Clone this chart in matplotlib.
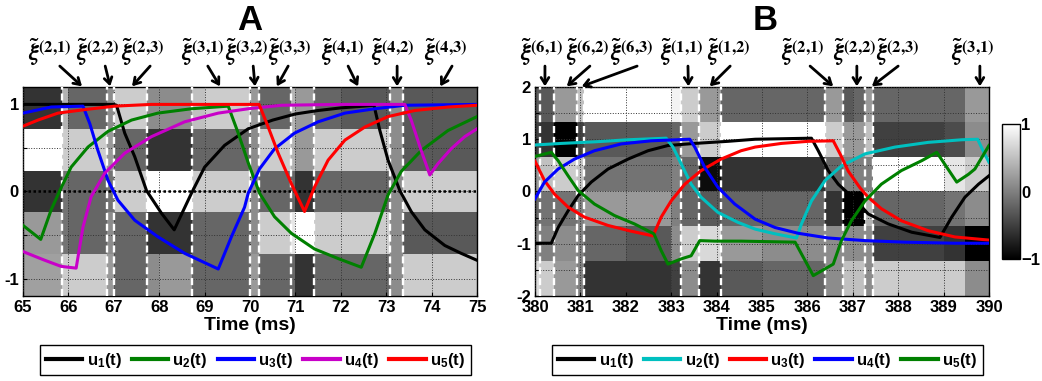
import numpy as np
import matplotlib
matplotlib.use('Agg')
import matplotlib.pyplot as plt
from matplotlib.lines import Line2D

plt.rcParams['font.family'] = ['Liberation Sans', 'DejaVu Sans']
plt.rcParams['font.weight'] = 'bold'
plt.rcParams['mathtext.fontset'] = 'custom'
plt.rcParams['mathtext.rm'] = 'Liberation Sans:bold'
plt.rcParams['mathtext.bf'] = 'Liberation Sans:bold'
plt.rcParams['mathtext.it'] = 'Liberation Sans:bold'

# ---------------- panel A data ----------------
a_edges = [65.0, 65.85, 66.0, 66.85, 67.0, 67.73, 68.0, 68.72, 69.0, 70.0,
           70.2, 70.9, 71.0, 71.42, 72.0, 73.08, 73.38, 74.0, 75.0]
# one entry per time bin, rows listed top to bottom
a_cells = [
    [-0.6, 1.0, -0.6, 0.2, 0.25],
    [0.4, 0.6, -0.1, -0.1, 0.6],
    [-0.2, 0.6, -0.2, -0.2, 0.6],
    [0.1, 0.2, -0.1, 0.1, 0.2],
    [0.6, -0.2, 0.6, -0.2, -0.2],
    [0.1, -0.6, 1.0, -0.6, 0.1],
    [0.1, -0.6, 1.0, -0.6, 0.2],
    [0.5, -0.2, 0.6, -0.2, -0.2],
    [0.6, -0.2, 0.6, -0.2, -0.2],
    [0.2, 0.1, 0.1, 0.1, 0.2],
    [-0.2, 0.6, -0.2, 0.6, -0.2],
    [0.4, 0.4, -0.2, 0.8, -0.2],
    [0.2, 0.2, -0.6, 1.0, -0.6],
    [-0.2, 0.6, -0.2, 0.6, -0.2],
    [-0.3, 0.6, -0.2, 0.6, -0.2],
    [0.1, 0.1, 0.1, 0.1, 0.1],
    [-0.3, -0.3, 0.6, -0.3, 0.6],
    [-0.3, -0.3, 0.6, -0.3, 0.6],
]
a_spikes = [65.85, 66.85, 67.0, 67.73, 68.72, 70.0, 70.2, 70.9, 71.42, 73.08, 73.38]

a_u1_t = [65.0, 66.0, 67.0, 67.06, 67.24, 67.46, 67.72, 68.05, 68.33, 68.71, 69.0, 69.44, 69.96,
          70.5, 71.0, 71.5, 72.0, 72.5, 72.73, 72.86, 73.04, 73.30, 73.55, 73.85, 74.29, 74.65, 75.0]
a_u1_y = [1.0, 1.0, 1.0, 0.99, 0.67, 0.40, 0.01, -0.25, -0.44, -0.02, 0.28, 0.53, 0.72,
          0.82, 0.89, 0.93, 0.96, 0.98, 0.99, 0.70, 0.36, 0.01, -0.23, -0.44, -0.62, -0.71, -0.79]
a_u2_t = [65.0, 65.39, 65.62, 65.81, 66.06, 66.43, 66.87, 67.39, 67.97, 68.71, 69.52, 69.74, 69.96,
          70.21, 70.54, 70.91, 71.42, 71.94, 72.45, 72.75, 73.04, 73.33, 73.77, 74.36, 75.0]
a_u2_y = [-0.39, -0.55, -0.21, 0.01, 0.28, 0.51, 0.69, 0.82, 0.90, 0.95, 0.98, 0.67, 0.33,
          -0.02, -0.29, -0.48, -0.66, -0.77, -0.87, -0.48, -0.04, 0.23, 0.47, 0.70, 0.86]
a_u3_t = [65.0, 65.62, 66.32, 66.47, 66.65, 66.87, 67.09, 67.46, 67.97, 68.56, 69.30, 69.59, 69.88,
          69.96, 70.21, 70.54, 70.98, 71.50, 72.09, 72.75, 73.41, 75.0]
a_u3_y = [0.90, 0.97, 0.98, 0.78, 0.47, 0.13, -0.10, -0.33, -0.52, -0.71, -0.89, -0.52, -0.18,
          -0.02, 0.26, 0.49, 0.67, 0.80, 0.90, 0.95, 0.99, 1.0]
a_u4_t = [65.0, 65.48, 65.84, 66.17, 66.32, 66.5, 66.80, 67.24, 67.83, 68.56, 69.30, 69.96, 70.69,
          72.0, 73.41, 73.55, 73.77, 73.96, 74.14, 74.43, 74.73, 75.0]
a_u4_y = [-0.69, -0.79, -0.86, -0.88, -0.41, -0.06, 0.21, 0.44, 0.63, 0.80, 0.90, 0.95, 0.99,
          1.0, 1.0, 0.82, 0.47, 0.19, 0.32, 0.49, 0.63, 0.72]
a_u5_t = [65.0, 65.33, 65.77, 66.36, 67.02, 67.83, 69.0, 70.2, 70.40, 70.62, 70.91, 71.20, 71.42,
          71.72, 72.09, 72.53, 73.04, 73.63, 74.36, 75.0]
a_u5_y = [0.75, 0.82, 0.90, 0.94, 0.98, 1.0, 1.0, 1.0, 0.74, 0.44, 0.09, -0.23, 0.05,
          0.36, 0.59, 0.74, 0.86, 0.93, 0.97, 0.99]

a_event_names = ['(2,1)', '(2,2)', '(2,3)', '(3,1)', '(3,2)', '(3,3)', '(4,1)', '(4,2)', '(4,3)']
a_event_tip = [66.30, 66.92, 67.40, 69.34, 70.11, 70.59, 72.38, 73.24, 74.19]
a_event_tail = [65.81, 66.81, 67.80, 69.07, 70.07, 70.84, 72.16, 73.24, 74.45]
a_event_label = [65.59, 66.65, 67.64, 68.96, 69.93, 70.87, 72.05, 73.15, 74.30]

# ---------------- panel B data ----------------
b_edges = [380.0, 380.1, 380.42, 380.93, 381.07, 382.0, 383.0, 383.22, 383.62, 384.1, 385.0,
           386.0, 386.38, 386.79, 387.0, 387.27, 387.45, 388.0, 389.0, 389.47, 390.0]
b_cells = [
    [-0.3, -0.5, 0.2, -0.2, 0.1, 0.7],
    [-0.3, -0.6, 0.5, -0.1, 0.0, 0.6],
    [0.2, -1.0, 0.6, -0.1, 0.1, 0.2],
    [0.5, -0.5, 0.5, 0.0, 0.0, 0.0],
    [1.0, -0.3, -0.1, 0.2, -0.2, -0.6],
    [1.0, -0.3, -0.1, 0.2, -0.3, -0.6],
    [0.9, -0.2, 0.0, 0.0, 0.1, -0.5],
    [0.6, 0.2, -0.2, -0.2, 0.6, 0.1],
    [0.2, 0.6, -0.9, -0.3, 0.7, -0.6],
    [-0.2, 1.0, -0.6, -0.2, 0.2, -0.3],
    [-0.2, 1.0, -0.6, -0.2, 0.1, -0.2],
    [-0.2, 1.0, -0.6, -0.2, 0.1, -0.2],
    [0.2, 0.6, -0.2, -0.6, 0.1, 0.1],
    [-0.3, 0.2, 0.0, -1.0, 0.1, 0.5],
    [-0.2, 0.2, 0.0, -1.0, 0.1, 0.5],
    [0.2, 0.5, 0.0, 0.4, 0.1, 0.1],
    [-0.2, -0.5, 1.0, -0.2, -0.5, 0.6],
    [-0.2, -0.5, 1.0, -0.2, -0.5, 0.6],
    [-0.2, -0.4, 0.8, -0.1, -0.6, 0.6],
    [0.2, 0.1, 0.6, 0.1, -1.0, 0.1],
]
b_spikes = [380.1, 380.42, 380.93, 381.07, 383.22, 383.62, 384.1, 386.38, 386.79, 387.27, 387.45]

b_u1_t = [380.0, 380.36, 380.51, 380.73, 380.95, 381.24, 381.61, 382.05, 382.49, 382.93, 383.52,
          384.25, 384.85, 386.09, 386.24, 386.46, 386.68, 386.83, 387.1, 387.34, 387.78, 388.30,
          388.92, 389.18, 389.47, 389.77, 390.0]
b_u1_y = [-0.99, -0.99, -0.69, -0.37, -0.08, 0.18, 0.43, 0.62, 0.78, 0.88, 0.92,
          0.96, 1.0, 1.02, 0.78, 0.40, 0.14, 0.02, -0.2, -0.43, -0.62, -0.78,
          -0.88, -0.49, -0.11, 0.14, 0.3]
b_u2_t = [380.0, 380.58, 381.31, 382.05, 382.89, 383.04, 383.22, 383.44, 383.66, 384.03, 384.47,
          384.85, 385.29, 385.76, 385.87, 386.09, 386.39, 386.75, 387.27, 387.93, 388.66, 389.40,
          389.75, 389.87, 390.0]
b_u2_y = [0.89, 0.92, 0.95, 0.99, 1.02, 0.85, 0.53, 0.14, -0.11, -0.40, -0.59,
          -0.72, -0.81, -0.89, -0.62, -0.18, 0.21, 0.49, 0.72, 0.85, 0.94, 0.99,
          1.0, 0.78, 0.56]
b_u3_t = [380.0, 380.21, 380.43, 380.73, 381.09, 381.61, 382.12, 382.60, 382.78, 383.0, 383.30,
          383.66, 384.10, 384.54, 384.85, 385.43, 386.02, 386.57, 386.72, 386.90, 387.16, 387.34,
          387.63, 388.07, 388.66, 389.25, 390.0]
b_u3_y = [0.58, 0.21, -0.05, -0.30, -0.49, -0.65, -0.76, -0.85, -0.49, -0.18, 0.14,
          0.40, 0.62, 0.78, 0.85, 0.92, 0.96, 0.97, 0.72, 0.39, 0.07, -0.11,
          -0.33, -0.56, -0.75, -0.87, -0.93]
b_u4_t = [380.0, 380.21, 380.51, 380.87, 381.31, 381.90, 382.56, 383.41, 383.52, 383.74, 384.03,
          384.40, 384.85, 385.29, 385.80, 386.46, 387.27, 388.15, 389.25, 390.0]
b_u4_y = [-0.14, 0.18, 0.43, 0.62, 0.78, 0.91, 0.97, 1.0, 0.85, 0.46, 0.08,
          -0.24, -0.53, -0.69, -0.80, -0.89, -0.94, -0.97, -0.99, -0.99]
b_u5_t = [380.0, 380.36, 380.51, 380.73, 380.95, 381.31, 381.75, 382.19, 382.62, 382.78, 382.93,
          383.22, 383.44, 383.63, 383.96, 384.54, 385.73, 386.13, 386.57, 386.75, 386.97, 387.27,
          387.63, 388.07, 388.52, 388.85, 389.29, 389.55, 389.69, 390.0]
b_u5_y = [0.67, 0.75, 0.59, 0.30, 0.02, -0.24, -0.46, -0.62, -0.81, -1.13, -1.39,
          -1.29, -1.23, -0.94, -0.95, -0.95, -0.97, -1.61, -1.39, -0.94, -0.56, -0.18,
          0.14, 0.40, 0.59, 0.75, 0.18, 0.33, 0.43, 0.88]

b_event_names = ['(6,1)', '(6,2)', '(6,3)', '(1,1)', '(1,2)', '(2,1)', '(2,2)', '(2,3)', '(3,1)']
b_event_tip = [380.22, 380.70, 381.03, 383.38, 383.85, 386.57, 387.09, 387.42, 389.80]
b_event_tail = [380.22, 381.21, 382.25, 383.37, 384.30, 386.06, 387.09, 388.00, 389.80]
b_event_label = [380.15, 381.15, 382.14, 383.24, 384.27, 385.90, 387.03, 387.98, 389.65]

legend_labels = [r'u$_1$(t)', r'u$_2$(t)', r'u$_3$(t)', r'u$_4$(t)', r'u$_5$(t)']
a_colors = ['black', '#008000', '#0000ff', '#c800c8', '#ff0000']
b_colors = ['black', '#00c0c0', '#ff0000', '#0000ff', '#008000']


def draw_panel(ax, edges, cells, ylim, nrows, spikes, curves, colors):
    y_edges = np.linspace(ylim[1], ylim[0], nrows + 1)
    mesh = ax.pcolormesh(edges, y_edges, np.array(cells).T, cmap='gray',
                         vmin=-1, vmax=1, zorder=1)
    for t in spikes:
        ax.axvline(t, color='white', lw=1.7, linestyle=(0, (3, 1.6)), zorder=2.6)
    for (t, y), c in zip(curves, colors):
        ax.plot(t, y, color=c, lw=2.2, zorder=3)
    ax.set_xlim(edges[0], edges[-1])
    ax.set_ylim(*ylim)
    ax.set_xticks(np.arange(edges[0], edges[-1] + 1, 1))
    ax.grid(True, color='0.2', linestyle=':', linewidth=0.7)
    ax.set_axisbelow(False)
    ax.tick_params(direction='in', length=3, labelsize=12, pad=3)
    ax.set_xlabel('Time (ms)', fontsize=14, fontweight='bold', labelpad=1)
    for s in ax.spines.values():
        s.set_linewidth(1.0)
    return mesh


def mark_events(ax, names, tips, tails, labels):
    tr = ax.get_xaxis_transform()
    for name, tip, tail, lab in zip(names, tips, tails, labels):
        ax.annotate('', xy=(tip, 1.003), xycoords=tr, xytext=(tail, 1.1), textcoords=tr,
                    arrowprops=dict(arrowstyle='->,head_length=0.45,head_width=0.28',
                                    lw=2, color='black', shrinkA=0, shrinkB=0),
                    annotation_clip=False)
        sup = name.replace(',', '{,}')
        ax.text(lab, 1.165, r'$\tilde{\boldsymbol{\xi}}^{\mathbf{' + sup + '}}$', transform=tr,
                ha='center', va='center', fontsize=17, math_fontfamily='stix')


fig = plt.figure(figsize=(10.42, 3.81), dpi=100)
ax_a = fig.add_axes([0.0221, 0.2231, 0.4357, 0.5486])
ax_b = fig.add_axes([0.5134, 0.2231, 0.4357, 0.5486])

draw_panel(ax_a, a_edges, a_cells, (-1.2, 1.2), 5, a_spikes,
           [(a_u1_t, a_u1_y), (a_u2_t, a_u2_y), (a_u3_t, a_u3_y),
            (a_u4_t, a_u4_y), (a_u5_t, a_u5_y)], a_colors)
ax_a.axhline(0, color='black', lw=1.8, linestyle=(0, (1, 1)), zorder=2.7)
ax_a.set_yticks([-1, -0.5, 0, 0.5, 1])
ax_a.set_yticklabels(['-1', '', '0', '', '1'])

mesh_b = draw_panel(ax_b, b_edges, b_cells, (-2, 2), 6, b_spikes,
                    [(b_u1_t, b_u1_y), (b_u2_t, b_u2_y), (b_u3_t, b_u3_y),
                     (b_u4_t, b_u4_y), (b_u5_t, b_u5_y)], b_colors)
ax_b.set_yticks([-2, -1.5, -1, -0.5, 0, 0.5, 1, 1.5, 2])
ax_b.set_yticklabels(['-2', '', '-1', '', '0', '', '1', '', '2'])

mark_events(ax_a, a_event_names, a_event_tip, a_event_tail, a_event_label)
mark_events(ax_b, b_event_names, b_event_tip, b_event_tail, b_event_label)

fig.text(0.240, 0.945, 'A', fontsize=25, fontweight='bold', ha='center', va='center')
fig.text(0.734, 0.945, 'B', fontsize=25, fontweight='bold', ha='center', va='center')

for ax, colors, cx in [(ax_a, a_colors, 0.2452), (ax_b, b_colors, 0.7366)]:
    handles = [Line2D([], [], color=c, lw=3) for c in colors]
    leg = ax.legend(handles, legend_labels, ncol=5, loc='center',
                    bbox_to_anchor=(cx, 0.055), bbox_transform=fig.transFigure,
                    fancybox=False, edgecolor='black', framealpha=1,
                    fontsize=12, handlelength=2.2, handletextpad=0.25,
                    columnspacing=0.6, borderpad=0.35, borderaxespad=0)
    leg.get_frame().set_linewidth(1.0)

cax = fig.add_axes([0.9612, 0.3202, 0.0173, 0.3543])
cb = fig.colorbar(mesh_b, cax=cax, ticks=[-1, 0, 1])
cb.ax.tick_params(labelsize=12, length=0, pad=1)
cb.outline.set_linewidth(1.0)

fig.savefig('out.png', dpi=100)
